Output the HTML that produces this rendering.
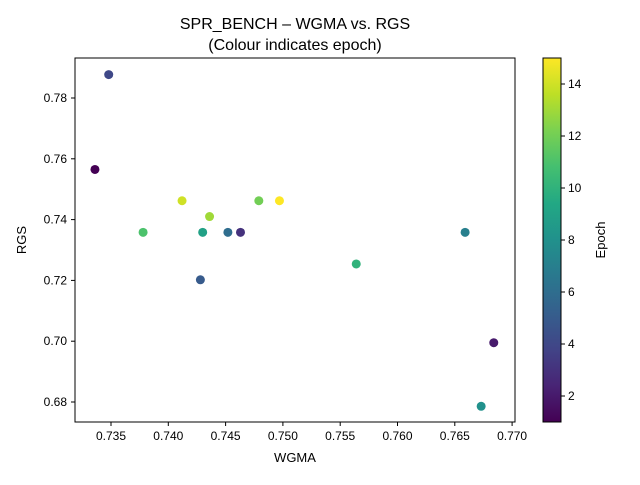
<!DOCTYPE html>
<html><head><meta charset="utf-8"><style>
body{margin:0;background:#fff;}
svg text{font-family:"Liberation Sans","DejaVu Sans",sans-serif;fill:#000;}
</style></head><body>
<svg id="chart" width="640" height="480" xmlns="http://www.w3.org/2000/svg">
<defs>
<linearGradient id="vir" x1="0" y1="1" x2="0" y2="0">
<stop offset="0" stop-color="#440154"/><stop offset="0.1" stop-color="#482475"/>
<stop offset="0.2" stop-color="#414487"/><stop offset="0.3" stop-color="#355f8d"/>
<stop offset="0.4" stop-color="#2a788e"/><stop offset="0.5" stop-color="#21918c"/>
<stop offset="0.6" stop-color="#22a884"/><stop offset="0.7" stop-color="#44bf70"/>
<stop offset="0.8" stop-color="#7ad151"/><stop offset="0.9" stop-color="#bddf26"/>
<stop offset="1" stop-color="#fde725"/>
</linearGradient>
</defs>
<text x="295" y="29" font-size="16" text-anchor="middle">SPR_BENCH – WGMA vs. RGS</text>
<text x="295" y="50" font-size="16" text-anchor="middle">(Colour indicates epoch)</text>
<g id="xt"></g><g id="yt"></g><g id="pts"></g>
<rect x="75" y="58" width="440" height="364" fill="none" stroke="#000" stroke-width="1"/>
<text x="295" y="462" font-size="13" text-anchor="middle">WGMA</text>
<text x="26" y="240" font-size="13" text-anchor="middle" transform="rotate(-90 26 240)">RGS</text>
<rect x="543" y="58" width="18" height="364" fill="url(#vir)" stroke="#000" stroke-width="1"/>
<g id="ct"></g>
<text x="605" y="240" font-size="13" text-anchor="middle" transform="rotate(-90 605 240)">Epoch</text>
</svg>
<script>
const wgma=[0.7336,0.7348,0.7378,0.7412,0.7430,0.7428,0.7436,0.7452,0.7463,0.7479,0.7497,0.7564,0.7659,0.7684,0.7673];
const rgs=[0.7565,0.7877,0.7358,0.7462,0.7358,0.7202,0.7410,0.7358,0.7358,0.7462,0.7462,0.7254,0.7358,0.6995,0.6786];
const epochs=[1,4,11,14,9,5,13,6,3,12,15,10,7,2,8];
const xTicks=[0.735,0.740,0.745,0.750,0.755,0.760,0.765,0.770];
const yTicks=[0.68,0.70,0.72,0.74,0.76,0.78];
const cTicks=[2,4,6,8,10,12,14];
const NS="http://www.w3.org/2000/svg";
const xs=v=>111+(v-0.735)/0.005*57.3;
const ys=v=>98+(0.78-v)/0.02*60.8;
const cs=v=>422-(v-1)/14*364;
const stops=[[68,1,84],[72,36,117],[65,68,135],[53,95,141],[42,120,142],[33,145,140],[34,168,132],[68,191,112],[122,209,81],[189,223,38],[253,231,37]];
function vir(t){t=Math.max(0,Math.min(1,t))*10;const i=Math.min(9,Math.floor(t)),f=t-i;const a=stops[i],b=stops[i+1];return `rgb(${a.map((c,k)=>Math.round(c+(b[k]-c)*f)).join(',')})`;}
function mk(tag,attrs,parent,txt){const e=document.createElementNS(NS,tag);for(const k in attrs)e.setAttribute(k,attrs[k]);if(txt!==undefined)e.textContent=txt;document.getElementById(parent).appendChild(e);return e;}
xTicks.forEach(t=>{const x=xs(t);
const l=mk('line',{x1:x,x2:x,y1:422,y2:426,stroke:'#000'},'xt');


const s=mk('text',{x:x,y:440,'font-size':12,'text-anchor':'middle'},'xt',t.toFixed(3));

});
yTicks.forEach(t=>{const y=ys(t);
const l=mk('line',{x1:71,x2:75,y1:y,y2:y,stroke:'#000'},'yt');


const s=mk('text',{x:67,y:y+4,'font-size':12,'text-anchor':'end'},'yt',t.toFixed(2));

});
cTicks.forEach(t=>{const y=cs(t);
const l=mk('line',{x1:561,x2:565,y1:y,y2:y,stroke:'#000'},'ct');


const s=mk('text',{x:568,y:y+4,'font-size':12},'ct',String(t));

});
wgma.forEach((w,i)=>{
const c=mk('circle',{cx:xs(w),cy:ys(rgs[i]),r:4.5,fill:vir((epochs[i]-1)/14)},'pts');

});
</script>
</body></html>
